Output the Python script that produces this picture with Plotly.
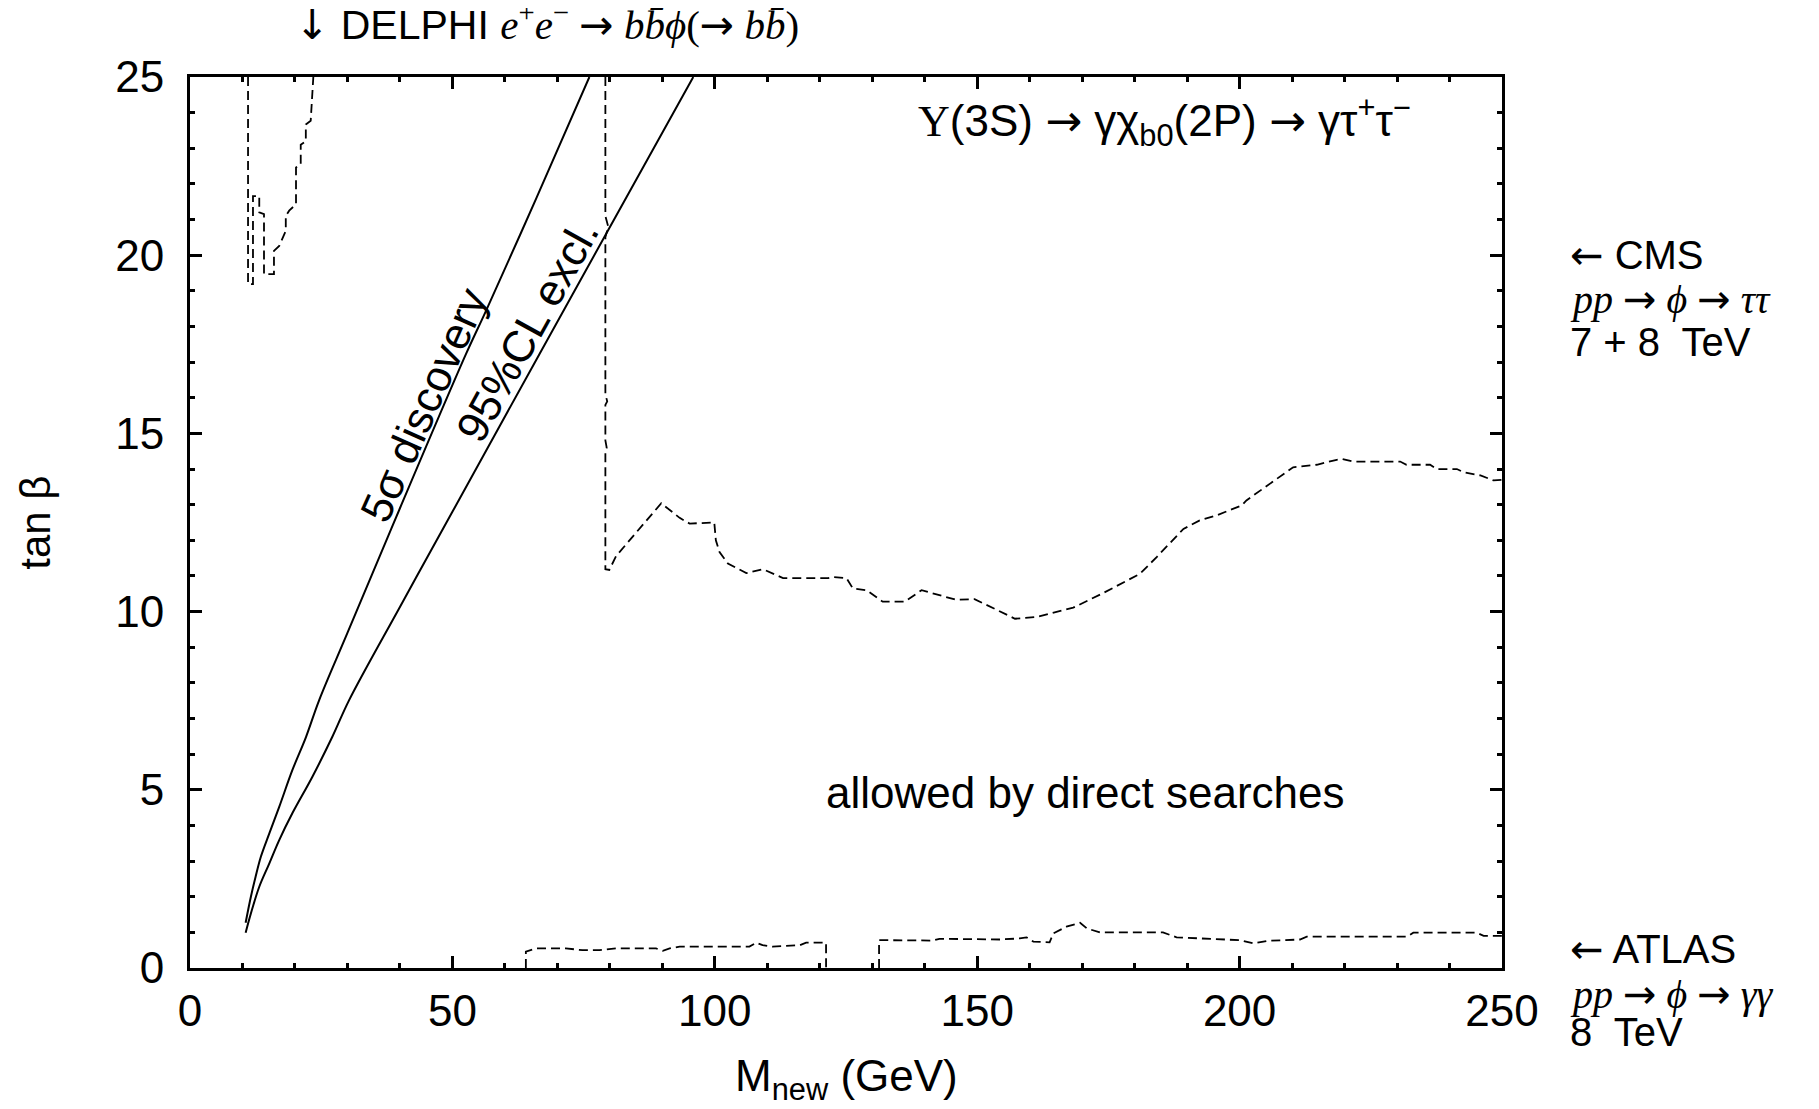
import plotly.graph_objects as go

# ---- data ----
discovery_x = [10.6, 11.6, 12.5, 13.5, 15.1, 17.0, 19.5, 22.1, 24.6, 30.0, 40.0, 52.6, 56.4, 66.0, 76.1]
discovery_y = [1.27, 2.00, 2.56, 3.12, 3.77, 4.52, 5.55, 6.48, 7.51, 9.40, 12.90, 17.23, 18.44, 21.60, 25.0]

exclusion_x = [10.6, 11.6, 13.2, 15.1, 17.0, 19.5, 23.3, 27.1, 30.3, 40.0, 50.0, 66.6, 79.3, 95.9]
exclusion_y = [0.99, 1.53, 2.28, 2.93, 3.59, 4.34, 5.36, 6.48, 7.51, 10.13, 12.80, 17.23, 20.60, 25.0]

cms_low_x = [11.06, 11.06, 12.0, 12.0, 13.2, 13.2, 14.1, 14.1, 16.0, 16.0, 17.0, 18.25, 18.25,
             18.9, 20.2, 20.2, 21.1, 21.1, 22.07, 22.07, 23.0, 23.4, 23.5]
cms_low_y = [25.0, 19.19, 19.19, 21.66, 21.66, 21.2, 21.15, 19.47, 19.47, 20.12, 20.26, 20.68, 21.1,
             21.25, 21.43, 22.46, 22.55, 23.1, 23.2, 23.67, 23.77, 24.7, 25.0]

cms_mid_x = [79.15, 79.15, 79.7, 79.15, 79.15, 79.5, 79.15, 79.15, 79.4, 79.15, 79.15, 79.9,
             81.2, 84.4, 87.5, 89.8, 93.3, 95.2, 99.9, 100.2, 100.9, 102.5, 106.0, 109.2, 113.0,
             121.6, 122.5, 125.1, 126.3, 128.9, 132.0, 136.2, 139.4, 146.0, 149.5, 153.0, 157.2,
             161.3, 164.5, 168.3, 174.0, 181.0, 184.2, 189.3, 192.4, 195.6, 200.4, 201.3, 210.2,
             214.7, 218.5, 219.6, 221.7, 230.6, 231.8, 236.3, 237.6, 241.4, 242.7, 245.9, 248.4, 250.0]
cms_mid_y = [25.0, 21.1, 20.8, 20.5, 16.1, 15.9, 15.8, 14.8, 14.6, 14.5, 11.19, 11.17,
             11.56, 12.10, 12.63, 13.04, 12.63, 12.47, 12.50, 12.00, 11.67, 11.35, 11.08, 11.19, 10.94,
             10.94, 10.97, 10.94, 10.65, 10.60, 10.28, 10.28, 10.60, 10.33, 10.35, 10.09, 9.80,
             9.85, 9.97, 10.11, 10.52, 11.06, 11.53, 12.32, 12.56, 12.70, 12.98, 13.12, 14.05,
             14.12, 14.26, 14.28, 14.21, 14.21, 14.12, 14.12, 14.00, 14.00, 13.91, 13.82, 13.68, 13.70]

atlas1_x = [64.0, 64.0, 65.9, 68.5, 71.6, 74.8, 78.0, 81.2, 85.6, 88.8, 90.1, 91.4, 93.3,
            106.6, 107.9, 109.1, 111.0, 116.2, 117.4, 120.9, 121.2, 121.2]
atlas1_y = [0.0, 0.46, 0.55, 0.55, 0.55, 0.50, 0.50, 0.55, 0.55, 0.55, 0.48, 0.55, 0.60,
            0.60, 0.71, 0.64, 0.60, 0.64, 0.71, 0.71, 0.71, 0.0]

atlas2_x = [131.3, 131.3, 133.1, 141.6, 142.8, 154.3, 158.1, 159.4, 160.7, 163.8, 164.5, 167.0,
            169.6, 170.9, 173.4, 185.4, 188.0, 200.1, 202.6, 205.2, 211.5, 212.8, 231.9, 233.1,
            245.2, 246.5, 250.0]
atlas2_y = [0.0, 0.78, 0.78, 0.77, 0.82, 0.80, 0.83, 0.86, 0.74, 0.72, 0.97, 1.16,
            1.27, 1.11, 1.00, 1.00, 0.86, 0.78, 0.69, 0.76, 0.80, 0.88, 0.88, 0.99,
            0.99, 0.90, 0.90]

x_range = [0, 250]
y_range = [0, 25]

SANS = "Liberation Sans"
SERIF = "Liberation Serif"
ARW = "DejaVu Sans"


def arrow(ch="→"):
    return f"<span style='font-family:{ARW}'>{ch}</span>"


def math(s):
    return f"<span style='font-family:{SERIF}'>{s}</span>"


fig = go.Figure()

solid = dict(color="black", width=2)
dashed = dict(color="black", width=1.8, dash="9px,5px")

fig.add_trace(go.Scatter(x=discovery_x, y=discovery_y, mode="lines", line=solid, line_shape="spline"))
fig.add_trace(go.Scatter(x=exclusion_x, y=exclusion_y, mode="lines", line=solid, line_shape="spline"))
for xs, ys in [(cms_low_x, cms_low_y), (cms_mid_x, cms_mid_y), (atlas1_x, atlas1_y), (atlas2_x, atlas2_y)]:
    fig.add_trace(go.Scatter(x=xs, y=ys, mode="lines", line=dashed))

axis_common = dict(
    showline=True, linecolor="black", linewidth=3, mirror="ticks",
    ticks="inside", ticklen=12, tickwidth=2.5, tickcolor="black",
    showgrid=False, zeroline=False,
    tickfont=dict(family=SANS, size=44, color="black"),
)

fig.update_xaxes(range=x_range, dtick=50, tick0=0,
                 minor=dict(dtick=10, ticks="inside", ticklen=5, tickwidth=2.5, tickcolor="black"),
                 ticklabelstandoff=2, **axis_common)
fig.update_yaxes(range=y_range, dtick=5, tick0=0,
                 minor=dict(dtick=1, ticks="inside", ticklen=5, tickwidth=2.5, tickcolor="black"),
                 ticklabelstandoff=14, **axis_common)

ann = []
# axis titles
ann.append(dict(xref="paper", yref="paper", x=0.5, y=-0.125, text="M<sub>new</sub> (GeV)",
                showarrow=False, xanchor="center", yanchor="middle",
                font=dict(family=SANS, size=44, color="black")))
ann.append(dict(xref="paper", yref="paper", x=-0.118, y=0.5, text="tan β", textangle=-90,
                showarrow=False, xanchor="center", yanchor="middle",
                font=dict(family=SANS, size=42, color="black")))
# in-plot labels
ann.append(dict(xref="x", yref="y", x=170.5, y=4.93, text="allowed by direct searches",
                showarrow=False, font=dict(family=SANS, size=44, color="black")))
ann.append(dict(xref="x", yref="y", x=185.6, y=23.75,
                text=f"{math('Υ')}(3S) {arrow()} γχ<sub>b0</sub>(2P) {arrow()} γτ<sup>+</sup>τ<sup>−</sup>",
                showarrow=False, font=dict(family=SANS, size=44, color="black")))
ann.append(dict(xref="x", yref="y", x=44.6, y=15.8, text="5σ discovery", textangle=-66,
                showarrow=False, font=dict(family=SANS, size=44, color="black")))
ann.append(dict(xref="x", yref="y", x=64.2, y=17.9, text="95%CL excl.", textangle=-61,
                showarrow=False, font=dict(family=SANS, size=44, color="black")))
# top label
ann.append(dict(xref="paper", yref="paper", x=0.272, y=1.061,
                text=f"{arrow('↓')} DELPHI " + math(f"<i>e</i><sup>+</sup><i>e</i><sup>−</sup> {arrow()} <i>b</i><i>b̄</i><i>ϕ</i>({arrow()} <i>b</i><i>b̄</i>)"),
                showarrow=False, xanchor="center", yanchor="middle",
                font=dict(family=SANS, size=41, color="black")))


# right labels
def right_label(y, text):
    ann.append(dict(xref="paper", yref="paper", x=1.050, y=y, text=text, showarrow=False,
                    xanchor="left", yanchor="middle",
                    font=dict(family=SANS, size=40, color="black")))


right_label(0.800, f"{arrow('←')} CMS")
right_label(0.751, math(f"<i>pp</i> {arrow()} <i>ϕ</i> {arrow()} <i>ττ</i>"))
right_label(0.703, "7 + 8  TeV")
right_label(0.0213, f"{arrow('←')} ATLAS")
right_label(-0.0292, math(f"<i>pp</i> {arrow()} <i>ϕ</i> {arrow()} <i>γγ</i>"))
right_label(-0.0718, "8  TeV")

fig.update_layout(
    width=1803, height=1093,
    margin=dict(l=182, r=309, t=69, b=133),
    paper_bgcolor="white", plot_bgcolor="white",
    showlegend=False,
    annotations=ann,
)

fig.write_html("out.html")
